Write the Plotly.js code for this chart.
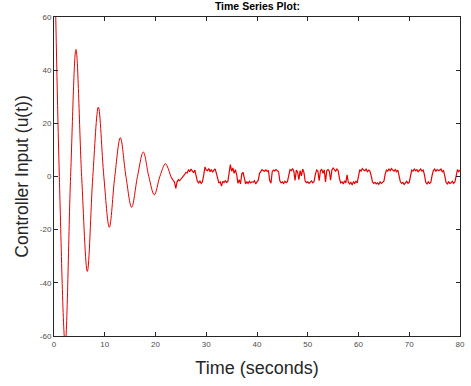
<!DOCTYPE html>
<html>
<head>
<meta charset="utf-8">
<script src="https://cdn.plot.ly/plotly-3.0.1.min.js"></script>
<style>html,body{margin:0;padding:0;background:#fff;}#chart{width:471px;height:386px;}</style>
</head>
<body>
<div id="chart"></div>
<script>
// Damped oscillation phase: extrema and zero crossings
var oscTime = [0, 1.05, 2.2, 3.27, 4.33, 5.45, 6.57, 7.65, 8.74, 9.82, 10.9, 11.98, 13.07, 14.18, 15.3, 16.45, 17.6, 18.68, 19.77, 20.86, 21.95, 22.5, 23.0];
var oscValue = [95, 0, -63, 0, 47.8, 0, -35.7, 0, 26.1, 0, -19.1, 0, 14.6, 0, -11.6, 0, 9.2, 0, -6.9, 0, 4.8, 3.0, 0.0];

// Noisy steady-state phase, sampled every 0.25 s from 23.25 s to 80 s
var noiseStart = 23.25;
var noiseStep = 0.25;
var noiseValue = [
  -1.0, -1.5, -2.2, -4.5,
  -2.0, -1.2, -1.6, -1.0,
  -0.8, -0.2, 0.8, 1.5,
  1.3, 2.6, 1.8, 2.8,
  2.2, 1.4, 2.4, 0.2,
  -1.8, -2.4, -1.6, -2.6,
  -2.0, 0.5, 3.6, 2.4,
  2.2, 3.0, 1.8, 2.6,
  1.6, 2.4, 2.9, 1.2,
  -0.6, -2.5, -2.0, -3.6,
  -1.8, -2.3, -1.6, -2.2,
  -1.9, 0.8, 4.5, 2.0,
  3.2, 1.2, 2.6, 0.6,
  -2.6, -1.2, -2.8, 1.0,
  1.6, -0.5, -2.8, -2.0,
  -2.6, -1.8, -2.4, -2.0,
  -2.2, -1.6, -2.8, -2.0,
  -1.4, 1.2, 2.0, 2.6,
  2.2, 2.0, 2.5, 1.9,
  2.3, -1.5, -2.5, 1.8,
  2.4, 2.1, 2.6, 2.2,
  1.8, -1.6, -2.4, -2.0,
  -2.6, -1.8, -2.3, -1.9,
  0.5, 2.6, 2.2, 3.0,
  2.0, -1.5, 2.4, 1.6,
  -1.2, 2.2, 0.2, 2.8,
  1.5, -1.8, -2.3, -2.0,
  -2.6, -2.1, -1.7, -2.4,
  -1.9, 0.8, 2.4, 2.0,
  -1.6, 2.2, 2.8, 1.2,
  2.5, -2.0, 2.2, 2.6,
  2.0, -1.4, 2.4, 3.2,
  2.6, 2.0, 2.8, 2.2,
  -0.8, -2.4, -2.0, -2.8,
  -1.6, -2.4, 0.6, -2.2,
  -2.8, -2.2, -3.2, -2.0,
  -2.6, -1.8, -2.4, 0.4,
  2.6, 2.0, 3.0, 2.4,
  2.2, 2.8, 1.8, 2.4,
  2.0, 0.2, -2.0, -2.6,
  -2.2, -2.8, -2.4, -3.0,
  -2.0, -2.6, -2.2, -1.8,
  0.8, 2.4, 2.0, 2.8,
  2.2, 3.0, 2.4, 2.0,
  2.6, 1.8, 2.4, 0.4,
  -2.0, -2.6, -2.2, -3.0,
  -2.4, -1.8, -2.6, -2.2,
  0.2, 2.4, 2.0, 2.8,
  2.2, 2.6, 1.8, 2.4,
  2.8, 2.0, 2.4, 0.6,
  -2.2, -2.8, -2.0, -2.6,
  -2.2, 0.4, 2.2, 2.8,
  2.0, 2.6, 2.2, 2.4,
  2.8, 1.8, 2.2, 0.2,
  -2.2, -2.8, -2.0, -2.6,
  -2.4, -1.8, -2.6, -2.0,
  0.4, 2.6, 1.8, 2.4
];
var noiseTime = noiseValue.map(function (v, i) { return noiseStart + i * noiseStep; });

var xTicks = [0, 10, 20, 30, 40, 50, 60, 70, 80];
var yTicks = [-60, -40, -20, 0, 20, 40, 60];

var lineColor = '#e60000';

var traces = [
  {x: oscTime, y: oscValue, type: 'scatter', mode: 'lines',
   line: {color: lineColor, width: 1, shape: 'spline', smoothing: 1}, hoverinfo: 'skip'},
  {x: [oscTime[oscTime.length - 1]].concat(noiseTime), y: [oscValue[oscValue.length - 1]].concat(noiseValue),
   type: 'scatter', mode: 'lines', line: {color: lineColor, width: 1.2}, hoverinfo: 'skip'}
];

var axisCommon = {
  showline: true, linecolor: '#262626', linewidth: 1, mirror: 'ticks',
  ticks: 'inside', ticklen: 4, tickcolor: '#262626', tickwidth: 1,
  showgrid: false, zeroline: false,
  tickfont: {family: 'Liberation Sans, Arial, sans-serif', size: 8, color: '#4d4d4d'}
};

var layout = {
  width: 471, height: 386,
  margin: {l: 54, r: 11, t: 17, b: 50},
  paper_bgcolor: '#ffffff', plot_bgcolor: '#ffffff',
  showlegend: false,
  title: {text: '<b>Time Series Plot:</b>', x: 0.5465, xanchor: 'center', y: 0.984, yanchor: 'middle', yref: 'container',
          font: {family: 'Liberation Sans, Arial, sans-serif', size: 10.5, color: '#000'}},
  xaxis: Object.assign({}, axisCommon, {
    range: [0, 80], tickvals: xTicks, ticktext: xTicks.map(String),
    title: {text: 'Time (seconds)', standoff: 13, font: {family: 'Liberation Sans, Arial, sans-serif', size: 18, color: '#262626'}}
  }),
  yaxis: Object.assign({}, axisCommon, {
    range: [-60, 60], tickvals: yTicks, ticktext: yTicks.map(String),
    title: {text: 'Controller Input (u(t))', standoff: 6, font: {family: 'Liberation Sans, Arial, sans-serif', size: 17.5, color: '#262626'}}
  })
};

Plotly.newPlot('chart', traces, layout, {staticPlot: true, displayModeBar: false});
</script>
</body>
</html>
